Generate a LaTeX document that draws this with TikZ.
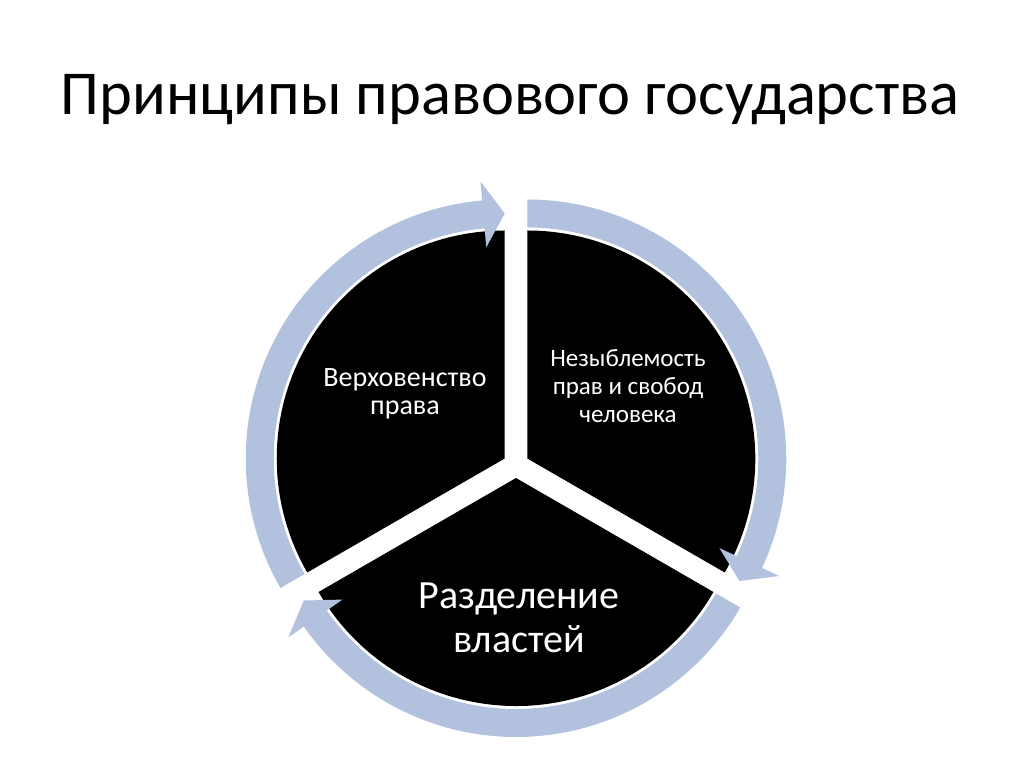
\documentclass[tikz,border=0pt]{standalone}
\usepackage{fontspec}
\setmainfont{Carlito}
\usepackage{xcolor}
\usepackage{tikz}
\definecolor{ringblue}{RGB}{178,193,221}

\begin{document}
\begin{tikzpicture}[x=1pt,y=1pt,
    sector/.style={fill=black},
    ring/.style={fill=ringblue},
    label/.style={text=white,align=center,anchor=base}]
                \useasboundingbox (0,0) rectangle (1024,767);
                \node[anchor=base,font=\fontsize{62.5}{72}\selectfont] (title) at (510,652) {Принципы правового государства};
                \coordinate (cl) at (504.74,308.5);
                \coordinate (cr) at (527.26,308.5);
                \coordinate (cb) at (516,289);
                \fill[sector] (cl) -- ++(90:228) arc[start angle=90,end angle=210,radius=228] -- cycle;
                \fill[sector] (cr) -- ++(-30:228) arc[start angle=-30,end angle=90,radius=228] -- cycle;
                \fill[sector] (cb) -- ++(210:228) arc[start angle=210,end angle=330,radius=228] -- cycle;
                \fill[ring,shift={(cl)}] (210:259) arc[start angle=210,end angle=95,radius=259] -- (95:278) -- (90:245) -- (95:212) -- (95:231) arc[start angle=95,end angle=210,radius=231] -- cycle;
                \fill[ring,shift={(cr)}] (90:259) arc[start angle=90,end angle=-25,radius=259] -- (-25:278) -- (-30:245) -- (-25:212) -- (-25:231) arc[start angle=-25,end angle=90,radius=231] -- cycle;
                \fill[ring,shift={(cb)}] (330:259) arc[start angle=330,end angle=215,radius=259] -- (215:278) -- (210:245) -- (215:212) -- (215:231) arc[start angle=215,end angle=330,radius=231] -- cycle;
                \node[label,font=\fontsize{28}{28.5}\selectfont] (rule) at (405,352) {Верховенство\\права};
                \node[label,font=\fontsize{25}{28.3}\selectfont] (rights) at (628,344) {Незыблемость\\прав и свобод\\человека};
                \node[label,font=\fontsize{40}{44}\selectfont] (powers) at (519,114) {Разделение\\властей};
            \end{tikzpicture}
\end{document}
